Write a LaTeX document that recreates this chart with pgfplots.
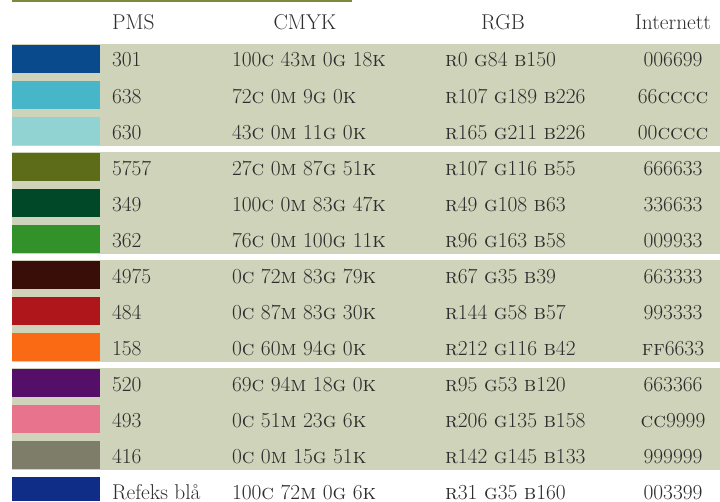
\documentclass[border=0pt]{standalone}
\usepackage{pgfplots}
\pgfplotsset{compat=1.18}

\definecolor{band}{RGB}{207,211,186}
\definecolor{rule}{RGB}{122,140,60}
\definecolor{txt}{RGB}{45,45,45}
\definecolor{c301}{RGB}{8,74,140}
\definecolor{c638}{RGB}{70,182,200}
\definecolor{c630}{RGB}{145,210,210}
\definecolor{c5757}{RGB}{92,108,24}
\definecolor{c349}{RGB}{0,72,40}
\definecolor{c362}{RGB}{50,145,40}
\definecolor{c4975}{RGB}{58,14,8}
\definecolor{c484}{RGB}{175,22,28}
\definecolor{c158}{RGB}{250,105,20}
\definecolor{c520}{RGB}{85,15,105}
\definecolor{c493}{RGB}{232,115,140}
\definecolor{c416}{RGB}{125,125,105}
\definecolor{cref}{RGB}{15,45,135}

\newcommand{\s}[1]{\textsc{#1}}
% one table row: top edge, PMS, CMYK, RGB, web
\newcommand{\row}[5]{%
  \node[anchor=base west] at (axis cs:112,#1+22) {#2};
  \node[anchor=base west] at (axis cs:232,#1+22) {#3};
  \node[anchor=base west] at (axis cs:445,#1+22) {#4};
  \node[anchor=base] at (axis cs:673,#1+22) {#5};
}

\begin{document}
\fontsize{21.5}{25}\selectfont
\begin{tikzpicture}[every node/.style={font=\fontsize{21.5}{25}\selectfont, text=txt, inner sep=0pt, outer sep=0pt}]
\begin{axis}[
  width=720bp, height=501bp, scale only axis,
  xmin=0, xmax=720, ymin=0, ymax=501, y dir=reverse,
  hide axis, clip=true,
]
% page and group bands
\addplot[fill=white, draw=none] coordinates {(0,0)(720,0)(720,501)(0,501)} -- cycle;
\addplot[fill=rule, draw=none] coordinates {(12,0)(352,0)(352,2.5)(12,2.5)} -- cycle;
\addplot[fill=band, draw=none] coordinates {(12,44)(720,44)(720,146)(12,146)} -- cycle;
\addplot[fill=band, draw=none] coordinates {(12,152)(720,152)(720,254)(12,254)} -- cycle;
\addplot[fill=band, draw=none] coordinates {(12,260)(720,260)(720,362)(12,362)} -- cycle;
\addplot[fill=band, draw=none] coordinates {(12,368)(720,368)(720,470)(12,470)} -- cycle;

% swatches
\addplot[fill=c301, draw=none] coordinates {(12,45)(100,45)(100,73)(12,73)} -- cycle;
\addplot[fill=c638, draw=none] coordinates {(12,81)(100,81)(100,109)(12,109)} -- cycle;
\addplot[fill=c630, draw=none] coordinates {(12,117)(100,117)(100,145)(12,145)} -- cycle;
\addplot[fill=c5757, draw=none] coordinates {(12,153)(100,153)(100,181)(12,181)} -- cycle;
\addplot[fill=c349, draw=none] coordinates {(12,189)(100,189)(100,217)(12,217)} -- cycle;
\addplot[fill=c362, draw=none] coordinates {(12,225)(100,225)(100,253)(12,253)} -- cycle;
\addplot[fill=c4975, draw=none] coordinates {(12,261)(100,261)(100,289)(12,289)} -- cycle;
\addplot[fill=c484, draw=none] coordinates {(12,297)(100,297)(100,325)(12,325)} -- cycle;
\addplot[fill=c158, draw=none] coordinates {(12,333)(100,333)(100,361)(12,361)} -- cycle;
\addplot[fill=c520, draw=none] coordinates {(12,369)(100,369)(100,397)(12,397)} -- cycle;
\addplot[fill=c493, draw=none] coordinates {(12,405)(100,405)(100,433)(12,433)} -- cycle;
\addplot[fill=c416, draw=none] coordinates {(12,441)(100,441)(100,469)(12,469)} -- cycle;
\addplot[fill=cref, draw=none] coordinates {(12,477)(100,477)(100,501)(12,501)} -- cycle;

% header
\node[anchor=base west] at (axis cs:112,30) {PMS};
\node[anchor=base] at (axis cs:305,30) {CMYK};
\node[anchor=base] at (axis cs:503,30) {RGB};
\node[anchor=base] at (axis cs:673,30) {Internett};

\row{45}{301}{100\s{c} 43\s{m} 0\s{g} 18\s{k}}{\s{r}0 \s{g}84 \s{b}150}{006699}
\row{81}{638}{72\s{c} 0\s{m} 9\s{g} 0\s{k}}{\s{r}107 \s{g}189 \s{b}226}{66\s{cccc}}
\row{117}{630}{43\s{c} 0\s{m} 11\s{g} 0\s{k}}{\s{r}165 \s{g}211 \s{b}226}{00\s{cccc}}
\row{153}{5757}{27\s{c} 0\s{m} 87\s{g} 51\s{k}}{\s{r}107 \s{g}116 \s{b}55}{666633}
\row{189}{349}{100\s{c} 0\s{m} 83\s{g} 47\s{k}}{\s{r}49 \s{g}108 \s{b}63}{336633}
\row{225}{362}{76\s{c} 0\s{m} 100\s{g} 11\s{k}}{\s{r}96 \s{g}163 \s{b}58}{009933}
\row{261}{4975}{0\s{c} 72\s{m} 83\s{g} 79\s{k}}{\s{r}67 \s{g}35 \s{b}39}{663333}
\row{297}{484}{0\s{c} 87\s{m} 83\s{g} 30\s{k}}{\s{r}144 \s{g}58 \s{b}57}{993333}
\row{333}{158}{0\s{c} 60\s{m} 94\s{g} 0\s{k}}{\s{r}212 \s{g}116 \s{b}42}{\s{ff}6633}
\row{369}{520}{69\s{c} 94\s{m} 18\s{g} 0\s{k}}{\s{r}95 \s{g}53 \s{b}120}{663366}
\row{405}{493}{0\s{c} 51\s{m} 23\s{g} 6\s{k}}{\s{r}206 \s{g}135 \s{b}158}{\s{cc}9999}
\row{441}{416}{0\s{c} 0\s{m} 15\s{g} 51\s{k}}{\s{r}142 \s{g}145 \s{b}133}{999999}
\row{477}{Refeks blå}{100\s{c} 72\s{m} 0\s{g} 6\s{k}}{\s{r}31 \s{g}35 \s{b}160}{003399}
\end{axis}
\end{tikzpicture}
\end{document}
